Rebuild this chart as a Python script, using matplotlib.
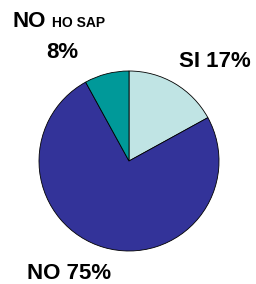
import matplotlib
matplotlib.use("Agg")
import matplotlib.pyplot as plt

labels = ["SI", "NO", "NO HO SAP"]
values = [17, 75, 8]
colors = ["#C0E4E4", "#333399", "#009999"]

W, H = 256, 284
fig = plt.figure(figsize=(W/100, H/100), dpi=100)
ax = fig.add_axes([0, 0, 1, 1])

ax.pie(values, colors=colors, startangle=90, counterclock=False,
       center=(129, H - 161), radius=90, frame=True,
       wedgeprops=dict(edgecolor="black", linewidth=0.6))
ax.set_xlim(0, W)
ax.set_ylim(0, H)
ax.set_aspect("auto")
ax.axis("off")

font = ["Liberation Sans", "DejaVu Sans"]
fs = 16
ax.text(12, H - 27, "NO", fontsize=fs, fontweight="bold", family=font, ha="left", va="baseline")
ax.text(52, H - 27, "HO SAP", fontsize=10, fontweight="bold", family=font, ha="left", va="baseline")
ax.text(62.5, H - 58, f"{values[2]}%", fontsize=fs, fontweight="bold", family=font, ha="center", va="baseline")
ax.text(215, H - 67, f"{labels[0]} {values[0]}%", fontsize=fs, fontweight="bold", family=font, ha="center", va="baseline")
ax.text(69, H - 279, f"{labels[1]} {values[1]}%", fontsize=fs, fontweight="bold", family=font, ha="center", va="baseline")

fig.savefig("out.png", dpi=100)
